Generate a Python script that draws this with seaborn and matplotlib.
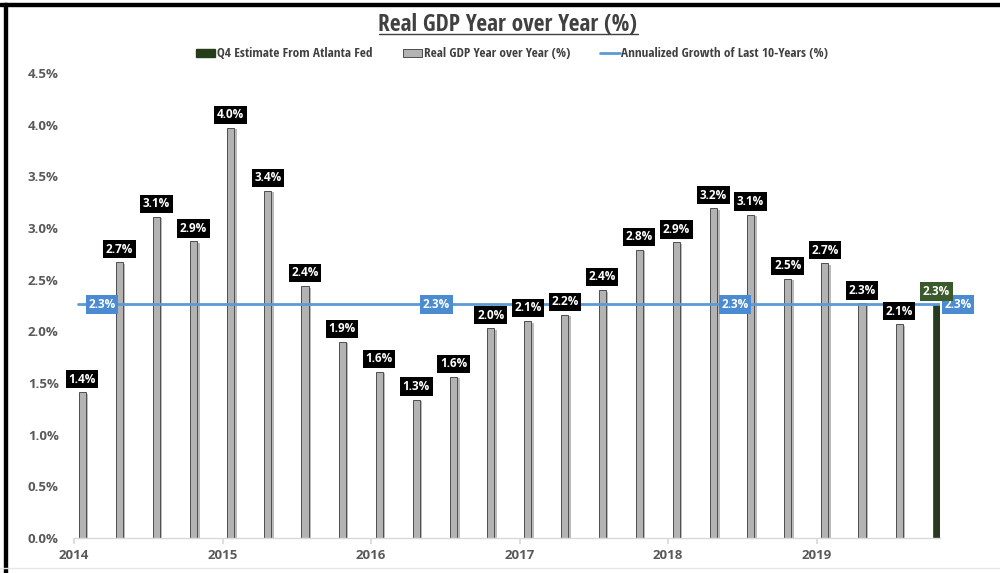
import matplotlib
matplotlib.use("Agg")
import matplotlib.pyplot as plt
import matplotlib.patheffects as pe
from matplotlib.lines import Line2D
from matplotlib.patches import Patch, Rectangle
import numpy as np
import pandas as pd
import seaborn as sns

# Quarterly real GDP growth, year over year (%)
quarters = ["2014Q1", "2014Q2", "2014Q3", "2014Q4",
            "2015Q1", "2015Q2", "2015Q3", "2015Q4",
            "2016Q1", "2016Q2", "2016Q3", "2016Q4",
            "2017Q1", "2017Q2", "2017Q3", "2017Q4",
            "2018Q1", "2018Q2", "2018Q3", "2018Q4",
            "2019Q1", "2019Q2", "2019Q3", "2019Q4"]
gdp_yoy = [1.41, 2.67, 3.11, 2.87,
           3.97, 3.36, 2.44, 1.90,
           1.61, 1.34, 1.56, 2.03,
           2.10, 2.16, 2.40, 2.79,
           2.86, 3.19, 3.13, 2.51,
           2.66, 2.27, 2.07, 2.26]
series = ["Real GDP Year over Year (%)"] * 23 + ["Q4 Estimate From Atlanta Fed"]
ten_year_avg = 2.26
year_ticks = [2014, 2015, 2016, 2017, 2018, 2019]

title = "Real GDP Year over Year (%)"
legend_labels = ["Q4 Estimate From Atlanta Fed",
                 "Real GDP Year over Year (%)",
                 "Annualized Growth of Last 10-Years (%)"]

GRAY = "#b3b3b3"
GREEN = "#263d1a"
GREEN_BOX = "#3b5a2b"
BLUE = "#5b9bd5"
BLUE_BOX = "#4a8bd2"
TXT = "#595959"

sns.set_theme(style="white")
plt.rcParams["font.family"] = ["Open Sans", "DejaVu Sans"]
NARROW = ["Open Sans Condensed", "DejaVu Sans"]

def qpos(q):
    # place each quarter's bar slightly after the start of its quarter
    yr, qn = int(q[:4]), int(q[-1])
    return yr + (qn - 1) * 0.25 + 0.055

df = pd.DataFrame({"x": [qpos(q) for q in quarters], "value": gdp_yoy, "series": series})

fig = plt.figure(figsize=(10, 5.73), dpi=100)
ax = fig.add_axes([0.074, 0.0611, 0.866, 0.8115])

sns.barplot(data=df, x="x", y="value", hue="series", native_scale=True, dodge=False,
            palette={legend_labels[1]: GRAY, legend_labels[0]: GREEN},
            width=0.19, edgecolor="#4d4d4d", linewidth=0.7, legend=False, ax=ax,
            err_kws={"linewidth": 0})
for p in ax.patches:
    p.set_path_effects([pe.SimplePatchShadow(offset=(1.8, -1.2), shadow_rgbFace="#8c8c8c", alpha=0.6),
                        pe.Normal()])

# ten-year annualized growth reference line
x0, x1 = 2014.03, 2019.9
line_df = pd.DataFrame({"x": [x0, x1], "y": [ten_year_avg, ten_year_avg]})
sns.lineplot(data=line_df, x="x", y="y", color=BLUE, linewidth=2.0, ax=ax, zorder=1)
for lx in [2014.19, 2016.44, 2018.45, 2019.95]:
    ax.text(lx, ten_year_avg, f"{ten_year_avg:.1f}%", ha="center", va="center",
            color="white", fontsize=8.5, fontweight="bold", zorder=6, clip_on=False,
            bbox=dict(boxstyle="square,pad=0.22", fc=BLUE_BOX, ec="none"))

# value labels above bars
for xv, v, s in zip(df["x"], df["value"], df["series"]):
    fc = GREEN_BOX if s == legend_labels[0] else "black"
    ax.annotate(f"{v:.1f}%", (xv, v), xytext=(0, 13), textcoords="offset pixels",
                ha="center", va="center", color="white", fontsize=8.5, fontweight="bold", zorder=7,
                bbox=dict(boxstyle="square,pad=0.22", fc=fc, ec="none"))

ax.set_xlim(2014, 2019.83)
ax.set_ylim(0, 4.5)
ax.set_yticks(np.arange(0, 4.51, 0.5))
ax.set_yticklabels([f"{t:.1f}%" for t in np.arange(0, 4.51, 0.5)])
ax.set_xticks(year_ticks)
ax.set_xticklabels([str(y) for y in year_ticks])
ax.set_xlabel("")
ax.set_ylabel("")
for lab in ax.get_xticklabels() + ax.get_yticklabels():
    lab.set_fontweight("bold")
    lab.set_color(TXT)
    lab.set_fontsize(9.5)
ax.tick_params(axis="y", length=0, pad=11)
ax.tick_params(axis="x", length=4, color="#d9d9d9", direction="out", pad=4, bottom=True)
for side in ["top", "right", "left"]:
    ax.spines[side].set_visible(False)
ax.spines["bottom"].set_color("#d9d9d9")
ax.spines["bottom"].set_linewidth(1.0)
ax.grid(False)

# title with underline
t = fig.text(0.508, 0.957, title, ha="center", va="center", fontsize=16.8, fontweight="bold",
             color="#404040", family=NARROW)
fig.canvas.draw()
bb = t.get_window_extent(fig.canvas.get_renderer()).transformed(fig.transFigure.inverted())
fig.add_artist(Line2D([bb.x0, bb.x1], [bb.y0 + 0.004, bb.y0 + 0.004], color="#404040", linewidth=1.0))

# legend
handles = [Patch(fc=GREEN, ec=GREEN), Patch(fc=GRAY, ec="#4d4d4d", lw=0.7),
           Line2D([0], [0], color=BLUE, lw=2)]
fig.legend(handles, legend_labels, loc="center", bbox_to_anchor=(0.512, 0.906), ncol=3,
           frameon=False, prop={"family": NARROW, "size": 9.5, "weight": "bold"}, labelcolor="#404040",
           handlelength=1.5, handleheight=0.55, handletextpad=0.1, columnspacing=2.3)

# outer frame
fig.add_artist(Rectangle((0, 1 - 6 / 573), 1, 3 / 573, transform=fig.transFigure, color="black"))
fig.add_artist(Rectangle((4 / 1000, 0), 3 / 1000, 1 - 3 / 573, transform=fig.transFigure, color="black"))
fig.add_artist(Line2D([0, 1], [5 / 573, 5 / 573], color="#e6e6e6", lw=1))

fig.savefig("out.png", dpi=100)
